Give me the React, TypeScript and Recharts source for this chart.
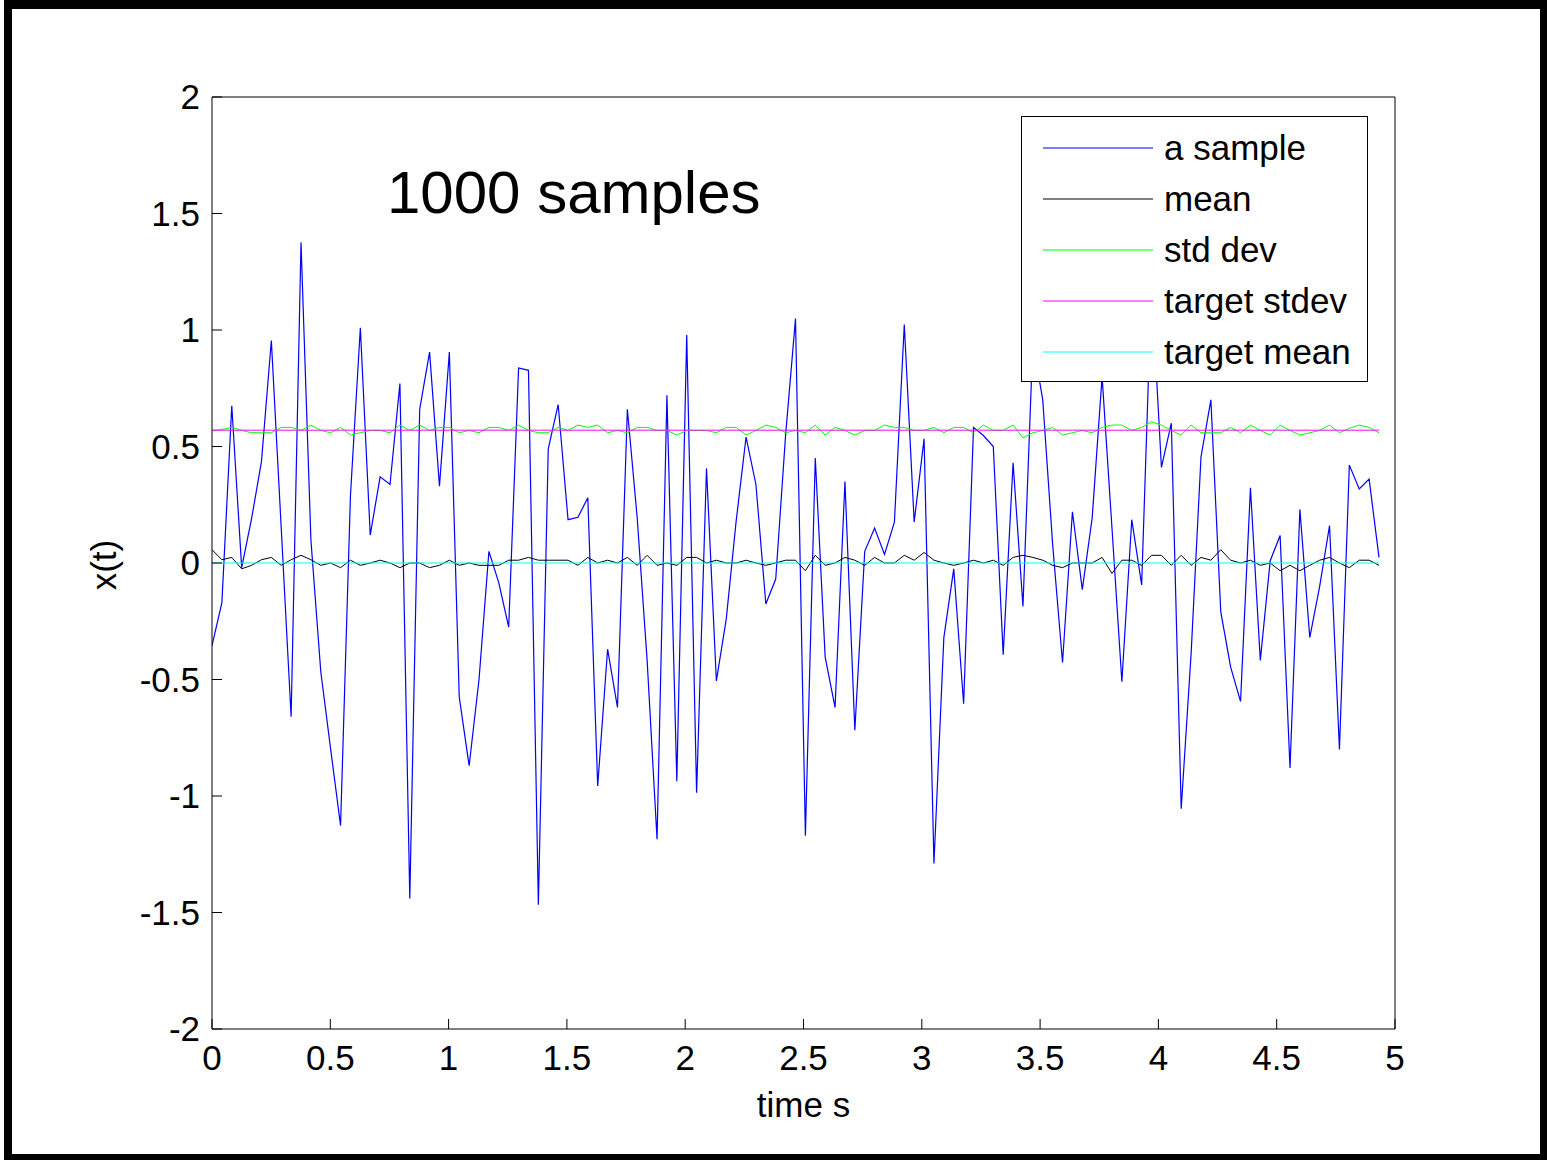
import React from 'react'
import { LineChart, Line, XAxis, YAxis, Legend } from 'recharts'

// time step between plotted samples (s)
const dt = 0.0418

const xTicks = [0, 0.5, 1, 1.5, 2, 2.5, 3, 3.5, 4, 4.5, 5]
const yTicks = [-2, -1.5, -1, -0.5, 0, 0.5, 1, 1.5, 2]

// one realisation of the process
const sampleVals = [
  -0.355, -0.17, 0.675, -0.02, 0.19, 0.435, 0.955, 0.15, -0.66, 1.376,
  0.1, -0.467, -0.8, -1.127, 0.29, 1.01, 0.12, 0.37, 0.337, 0.77,
  -1.44, 0.66, 0.905, 0.33, 0.905, -0.575, -0.87, -0.5, 0.05, -0.085,
  -0.275, 0.837, 0.827, -1.467, 0.49, 0.68, 0.186, 0.196, 0.28, -0.957,
  -0.37, -0.62, 0.66, 0.19, -0.42, -1.186, 0.72, -0.937, 0.978, -0.986,
  0.406, -0.506, -0.24, 0.18, 0.54, 0.337, -0.176, -0.069, 0.55, 1.049,
  -1.17, 0.45, -0.404, -0.62, 0.35, -0.718, 0.05, 0.15, 0.037, 0.175,
  1.024, 0.176, 0.533, -1.29, -0.32, -0.025, -0.604, 0.582, 0.547, 0.5,
  -0.394, 0.43, -0.186, 0.95, 0.7, 0.08, -0.427, 0.22, -0.114, 0.194,
  0.8, 0.15, -0.51, 0.186, -0.094, 1.2, 0.41, 0.6, -1.055, -0.39,
  0.455, 0.7, -0.21, -0.447, -0.594, 0.323, -0.418, 0.01, 0.118, -0.88,
  0.23, -0.32, -0.1, 0.16, -0.8, 0.42, 0.318, 0.36, 0.024,
]

// ensemble mean over 1000 samples
const meanVals = [
  0.057, 0.014, 0.024, -0.025, -0.01, 0.014, 0.024, -0.01, 0.014, 0.033,
  0.014, -0.01, 0, -0.02, 0.012, -0.01, 0, 0.012, 0, -0.02,
  0, 0, -0.02, -0.01, 0.012, -0.01, 0, -0.01, -0.01, -0.01,
  0.012, 0.012, 0.024, 0.012, 0.012, 0.012, 0.012, -0.01, 0.024, 0,
  0.012, 0, 0.024, -0.01, 0.033, -0.01, 0, -0.01, 0.024, 0.024,
  0, 0.012, 0, 0, 0.012, 0, -0.01, 0, 0.012, 0.012,
  -0.033, 0.033, -0.01, 0, 0.024, 0.012, -0.01, 0.024, 0, 0,
  0.033, 0.012, 0.045, 0.012, 0, -0.01, 0, 0.012, 0, 0.012,
  -0.01, 0.024, 0.033, 0.024, 0.012, -0.01, -0.02, 0, 0, 0,
  0.024, -0.045, 0.012, 0.012, -0.01, 0.033, 0.033, -0.01, 0.033, -0.01,
  0.024, 0.012, 0.057, 0.012, 0, 0.012, -0.01, 0, -0.033, -0.01,
  -0.033, -0.01, 0.012, 0.024, 0, -0.02, 0.012, 0.012, -0.01,
]

// ensemble std dev over 1000 samples
const stdVals = [
  0.569, 0.573, 0.582, 0.569, 0.559, 0.559, 0.559, 0.582, 0.582, 0.569,
  0.592, 0.569, 0.559, 0.582, 0.549, 0.559, 0.569, 0.569, 0.559, 0.592,
  0.569, 0.592, 0.569, 0.582, 0.582, 0.559, 0.569, 0.559, 0.582, 0.582,
  0.569, 0.592, 0.569, 0.559, 0.559, 0.582, 0.569, 0.592, 0.582, 0.592,
  0.559, 0.569, 0.559, 0.582, 0.582, 0.569, 0.569, 0.549, 0.569, 0.569,
  0.569, 0.559, 0.582, 0.582, 0.549, 0.569, 0.592, 0.582, 0.559, 0.569,
  0.559, 0.592, 0.549, 0.582, 0.569, 0.549, 0.569, 0.569, 0.592, 0.582,
  0.582, 0.569, 0.569, 0.582, 0.559, 0.582, 0.582, 0.559, 0.592, 0.569,
  0.569, 0.592, 0.537, 0.559, 0.569, 0.582, 0.549, 0.559, 0.569, 0.559,
  0.582, 0.592, 0.592, 0.569, 0.582, 0.606, 0.592, 0.569, 0.549, 0.592,
  0.559, 0.559, 0.559, 0.582, 0.559, 0.592, 0.569, 0.549, 0.592, 0.569,
  0.549, 0.559, 0.569, 0.592, 0.559, 0.578, 0.592, 0.582, 0.559,
]

const targetStdev = 0.57
const targetMean = 0

// series: key, legend name, colour (in plot order)
const seriesKeys = ['sample', 'mean', 'std', 'targetStd', 'targetMean']
const seriesNames = ['a sample', 'mean', 'std dev', 'target stdev', 'target mean']
const seriesColors = ['#0000ff', '#000000', '#00ff00', '#ff00ff', '#00ffff']

const data = sampleVals.map((v, i) => ({
  t: +(i * dt).toFixed(4),
  sample: v,
  mean: meanVals[i],
  std: stdVals[i],
  targetStd: targetStdev,
  targetMean: targetMean,
}))

const font = '"Liberation Sans", Arial, Helvetica, sans-serif'

const renderLegend = () => (
  <div
    style={{
      width: 347,
      height: 266,
      boxSizing: 'border-box',
      border: '1px solid #000',
      background: '#fff',
      paddingTop: 5,
      fontFamily: font,
    }}
  >
    {seriesNames.map((name, i) => (
      <div key={name} style={{ display: 'flex', alignItems: 'center', height: 51 }}>
        <svg width={110} height={4} style={{ marginLeft: 21, display: 'block' }}>
          <line x1={0} y1={2} x2={110} y2={2} stroke={seriesColors[i]} strokeWidth={1.2} />
        </svg>
        <span style={{ marginLeft: 11, fontSize: 35, lineHeight: 1, color: '#000' }}>{name}</span>
      </div>
    ))}
  </div>
)

const yLabel = (props: any) => {
  const vb = props.viewBox
  const x = vb.x + 11
  const y = vb.y + vb.height / 2 + 2
  return (
    <text
      x={x}
      y={y}
      transform={`rotate(-90, ${x}, ${y})`}
      textAnchor="middle"
      dominantBaseline="central"
      fontSize={35}
      fontFamily={font}
      fill="#000"
    >
      x(t)
    </text>
  )
}

export default function App() {
  const tickStyle = { fill: '#000', fontSize: 35, fontFamily: font }
  return (
    <div style={{ position: 'absolute', left: 0, top: 0, width: 1547, height: 1161, background: '#fff' }}>
      <div
        style={{
          position: 'absolute',
          left: 4,
          top: 0,
          width: 1543,
          height: 1160,
          boxSizing: 'border-box',
          borderStyle: 'solid',
          borderColor: '#000',
          borderWidth: '9px 7px 6px 8px',
        }}
      />
      <div style={{ position: 'absolute', left: 0, top: 0 }}>
        <LineChart width={1547} height={1161} data={data} margin={{ top: 67, right: 122, bottom: 40, left: 92 }}>
          <XAxis
            dataKey="t"
            type="number"
            domain={[0, 5]}
            ticks={xTicks}
            allowDataOverflow
            height={92}
            tickSize={-10}
            tickMargin={26}
            tick={tickStyle}
            stroke="#000"
            label={{ value: 'time s', position: 'insideBottom', offset: 4, fill: '#000', fontSize: 35, fontFamily: font }}
          />
          <XAxis
            xAxisId="top"
            orientation="top"
            dataKey="t"
            type="number"
            domain={[0, 5]}
            ticks={xTicks}
            allowDataOverflow
            height={30}
            tickSize={-10}
            tick={false}
            stroke="#000"
          />
          <YAxis
            type="number"
            domain={[-2, 2]}
            ticks={yTicks}
            allowDataOverflow
            width={120}
            tickSize={-10}
            tickMargin={22}
            tick={tickStyle}
            stroke="#000"
            label={yLabel}
          />
          <YAxis
            yAxisId="right"
            orientation="right"
            type="number"
            domain={[-2, 2]}
            ticks={yTicks}
            allowDataOverflow
            width={30}
            tickSize={-10}
            tick={false}
            stroke="#000"
          />
          {seriesKeys.map((key, i) => (
            <Line
              key={key}
              type="linear"
              dataKey={key}
              name={seriesNames[i]}
              stroke={seriesColors[i]}
              strokeWidth={key === 'sample' ? 1.2 : 1}
              dot={false}
              isAnimationActive={false}
            />
          ))}
          <text x={387} y={213} fontSize={60} fontFamily={font} fill="#000">
            1000 samples
          </text>
          <Legend
            layout="horizontal"
            verticalAlign="middle"
            align="center"
            content={renderLegend}
            wrapperStyle={{ left: 1021, top: 116, width: 347, height: 266 }}
          />
        </LineChart>
      </div>
    </div>
  )
}
